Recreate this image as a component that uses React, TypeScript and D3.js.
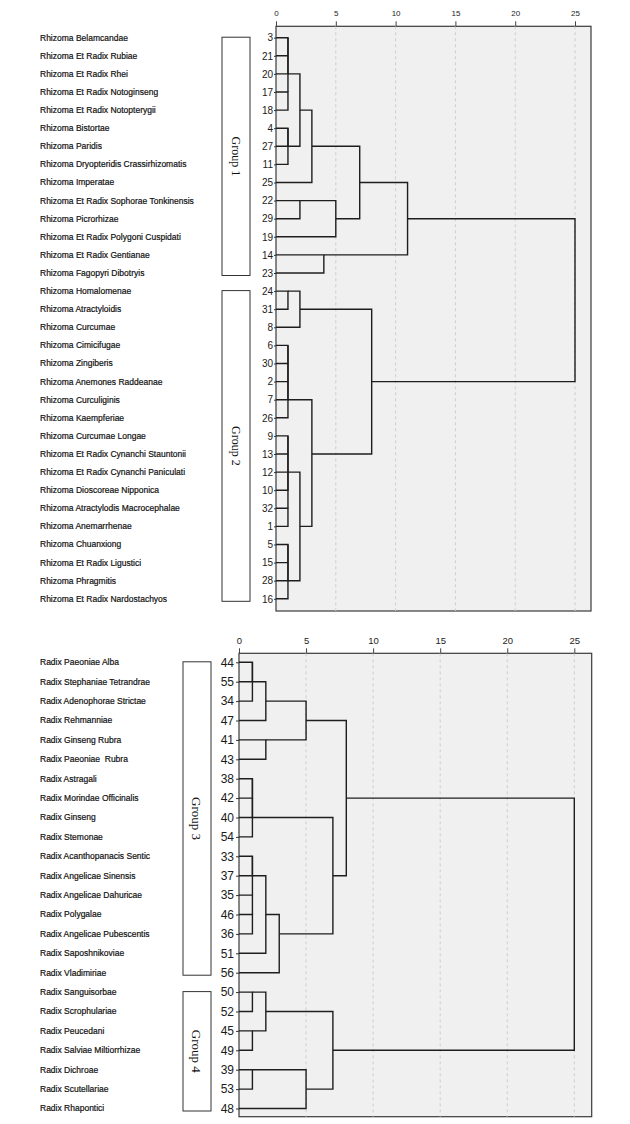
import React, { useEffect, useRef } from 'react';
import * as d3 from 'd3';

// leaf order (top to bottom) and names, upper dendrogram
const rhizomaLeaves = [3, 21, 20, 17, 18, 4, 27, 11, 25, 22, 29, 19, 14, 23, 24, 31, 8, 6, 30, 2, 7, 26, 9, 13, 12, 10, 32, 1, 5, 15, 28, 16];
const rhizomaNames = [
  'Rhizoma Belamcandae',
  'Rhizoma Et Radix Rubiae',
  'Rhizoma Et Radix Rhei',
  'Rhizoma Et Radix Notoginseng',
  'Rhizoma Et Radix Notopterygii',
  'Rhizoma Bistortae',
  'Rhizoma Paridis',
  'Rhizoma Dryopteridis Crassirhizomatis',
  'Rhizoma Imperatae',
  'Rhizoma Et Radix Sophorae Tonkinensis',
  'Rhizoma Picrorhizae',
  'Rhizoma Et Radix Polygoni Cuspidati',
  'Rhizoma Et Radix Gentianae',
  'Rhizoma Fagopyri Dibotryis',
  'Rhizoma Homalomenae',
  'Rhizoma Atractyloidis',
  'Rhizoma Curcumae',
  'Rhizoma Cimicifugae',
  'Rhizoma Zingiberis',
  'Rhizoma Anemones Raddeanae',
  'Rhizoma Curculiginis',
  'Rhizoma Kaempferiae',
  'Rhizoma Curcumae Longae',
  'Rhizoma Et Radix Cynanchi Stauntonii',
  'Rhizoma Et Radix Cynanchi Paniculati',
  'Rhizoma Dioscoreae Nipponica',
  'Rhizoma Atractylodis Macrocephalae',
  'Rhizoma Anemarrhenae',
  'Rhizoma Chuanxiong',
  'Rhizoma Et Radix Ligustici',
  'Rhizoma Phragmitis',
  'Rhizoma Et Radix Nardostachyos',
];
// merges: [left, right, rescaled distance]; numbers are leaves, 'mN' is merge N
const rhizomaMerges: [number | string, number | string, number][] = [
  [3, 21, 1], ['m0', 20, 1], [17, 18, 1], ['m1', 'm2', 1],
  [4, 27, 1], ['m4', 11, 1], ['m3', 'm5', 2], ['m6', 25, 3],
  [22, 29, 2], ['m8', 19, 5], ['m7', 'm9', 7], [14, 23, 4],
  ['m10', 'm11', 11],
  [24, 31, 1], ['m13', 8, 2],
  [6, 30, 1], ['m15', 2, 1], ['m16', 7, 1], ['m17', 26, 1],
  [9, 13, 1], [12, 10, 1], ['m19', 'm20', 1], [32, 1, 1], ['m21', 'm22', 1],
  [5, 15, 1], ['m24', 28, 1], ['m25', 16, 1],
  ['m23', 'm26', 2], ['m18', 'm27', 3], ['m14', 'm28', 8],
  ['m12', 'm29', 25],
];
const rhizomaGroups = [
  { label: 'Group 1', from: 0, to: 13 },
  { label: 'Group 2', from: 14, to: 31 },
];

// lower dendrogram
const radixLeaves = [44, 55, 34, 47, 41, 43, 38, 42, 40, 54, 33, 37, 35, 46, 36, 51, 56, 50, 52, 45, 49, 39, 53, 48];
const radixNames = [
  'Radix Paeoniae Alba',
  'Radix Stephaniae Tetrandrae',
  'Radix Adenophorae Strictae',
  'Radix Rehmanniae',
  'Radix Ginseng Rubra',
  'Radix Paeoniae  Rubra',
  'Radix Astragali',
  'Radix Morindae Officinalis',
  'Radix Ginseng',
  'Radix Stemonae',
  'Radix Acanthopanacis Sentic',
  'Radix Angelicae Sinensis',
  'Radix Angelicae Dahuricae',
  'Radix Polygalae',
  'Radix Angelicae Pubescentis',
  'Radix Saposhnikoviae',
  'Radix Vladimiriae',
  'Radix Sanguisorbae',
  'Radix Scrophulariae',
  'Radix Peucedani',
  'Radix Salviae Miltiorrhizae',
  'Radix Dichroae',
  'Radix Scutellariae',
  'Radix Rhapontici',
];
const radixMerges: [number | string, number | string, number][] = [
  [44, 55, 1], ['m0', 34, 1], ['m1', 47, 2], [41, 43, 2], ['m2', 'm3', 5],
  [38, 42, 1], ['m5', 40, 1], ['m6', 54, 1],
  [33, 37, 1], [46, 36, 1], [35, 'm9', 1], ['m8', 'm10', 1], ['m11', 51, 2], ['m12', 56, 3],
  ['m7', 'm13', 7], ['m4', 'm14', 8],
  [50, 52, 1], [45, 49, 1], ['m16', 'm17', 2], [39, 53, 1], ['m19', 48, 5], ['m18', 'm20', 7],
  ['m15', 'm21', 25],
];
const radixGroups = [
  { label: 'Group 3', from: 0, to: 16 },
  { label: 'Group 4', from: 17, to: 23 },
];

const axisTicks = [0, 5, 10, 15, 20, 25];

const SANS = '"Liberation Sans", Arial, sans-serif';
const SERIF = '"Liberation Serif", "Times New Roman", serif';

interface PanelLayout {
  x0: number; x25: number; right: number; top: number; bottom: number;
  yFirst: number; yLast: number; boxX: [number, number];
  tickFont: number; tickPad: number; leafFont: number; leafTick: number; leafPad: number;
  groupFont: number;
}

function drawPanel(
  g: d3.Selection<SVGGElement, unknown, null, undefined>,
  L: PanelLayout,
  leaves: number[],
  names: string[],
  merges: [number | string, number | string, number][],
  groups: { label: string; from: number; to: number }[]
) {
  const x = d3.scaleLinear().domain([0, 25]).range([L.x0, L.x25]);
  const y = d3.scaleLinear().domain([0, leaves.length - 1]).range([L.yFirst, L.yLast]);

  g.append('rect')
    .attr('x', L.x0).attr('y', L.top)
    .attr('width', L.right - L.x0).attr('height', L.bottom - L.top)
    .attr('fill', '#f0f0f0').attr('stroke', '#3a3a3a').attr('stroke-width', 1.2);

  g.selectAll('line.grid')
    .data(axisTicks.slice(1))
    .join('line')
    .attr('class', 'grid')
    .attr('x1', (d) => x(d)).attr('x2', (d) => x(d))
    .attr('y1', L.top).attr('y2', L.bottom)
    .attr('stroke', '#cdcdcd').attr('stroke-dasharray', '3,3');

  const ax = g.append('g')
    .attr('transform', `translate(0,${L.top})`)
    .call(d3.axisTop(x).tickValues(axisTicks).tickSize(5).tickSizeOuter(0).tickPadding(L.tickPad));
  ax.select('.domain').remove();
  ax.selectAll('text').attr('font-size', L.tickFont).attr('font-family', SANS).attr('fill', '#222');
  ax.selectAll('line').attr('stroke', '#444');

  const ay = g.append('g')
    .attr('transform', `translate(${L.x0},0)`)
    .call(
      d3.axisLeft(y)
        .tickValues(d3.range(leaves.length))
        .tickFormat((i) => String(leaves[i as number]))
        .tickSize(L.leafTick).tickSizeOuter(0).tickPadding(L.leafPad)
    );
  ay.select('.domain').remove();
  ay.selectAll('text').attr('font-size', L.leafFont).attr('font-family', SANS).attr('fill', '#1a1a1a');
  ay.selectAll('line').attr('stroke', '#333');

  // dendrogram links
  const pos = new Map<string, { row: number; h: number }>();
  leaves.forEach((id, i) => pos.set(String(id), { row: i, h: 0 }));
  const paths: string[] = [];
  merges.forEach(([a, b, h], k) => {
    const pa = pos.get(String(a))!;
    const pb = pos.get(String(b))!;
    const p = d3.path();
    p.moveTo(x(pa.h), y(pa.row));
    p.lineTo(x(h), y(pa.row));
    p.lineTo(x(h), y(pb.row));
    p.lineTo(x(pb.h), y(pb.row));
    paths.push(p.toString());
    pos.set('m' + k, { row: Math.floor((pa.row + pb.row) / 2), h });
  });
  g.selectAll('path.link')
    .data(paths)
    .join('path')
    .attr('class', 'link')
    .attr('d', (d) => d)
    .attr('fill', 'none')
    .attr('stroke', '#1e1e1e')
    .attr('stroke-width', 1.4);

  // species names
  g.selectAll('text.name')
    .data(names)
    .join('text')
    .attr('class', 'name')
    .attr('x', 40)
    .attr('y', (_, i) => y(i))
    .attr('dy', '0.35em')
    .attr('font-size', 8.5)
    .attr('font-family', SANS)
    .attr('fill', '#111')
    .attr('stroke', '#111')
    .attr('stroke-width', 0.2)
    .style('white-space', 'pre')
    .text((d) => d);

  // group boxes
  groups.forEach((grp) => {
    const y1 = y(grp.from) - 0.5;
    const y2 = y(grp.to) + 2.5;
    g.append('rect')
      .attr('x', L.boxX[0]).attr('y', y1)
      .attr('width', L.boxX[1] - L.boxX[0]).attr('height', y2 - y1)
      .attr('fill', '#fff').attr('stroke', '#333').attr('stroke-width', 1);
    const cx = (L.boxX[0] + L.boxX[1]) / 2;
    const cy = (y1 + y2) / 2;
    g.append('text')
      .attr('transform', `translate(${cx},${cy}) rotate(90)`)
      .attr('text-anchor', 'middle')
      .attr('dy', '0.35em')
      .attr('font-size', L.groupFont)
      .attr('font-family', SERIF)
      .attr('fill', '#111')
      .text(grp.label);
  });
}

const App: React.FC = () => {
  const svgRef = useRef<SVGSVGElement>(null);

  useEffect(() => {
    if (!svgRef.current) return;
    const svg = d3.select(svgRef.current);
    svg.selectAll('*').remove();

    drawPanel(
      svg.append('g'),
      {
        x0: 276, x25: 575, right: 591, top: 26.3, bottom: 611,
        yFirst: 37.7, yLast: 598.8, boxX: [222, 250],
        tickFont: 8, tickPad: 5, leafFont: 10, leafTick: 2, leafPad: 1, groupFont: 12,
      },
      rhizomaLeaves, rhizomaNames, rhizomaMerges, rhizomaGroups
    );

    drawPanel(
      svg.append('g'),
      {
        x0: 239, x25: 574.3, right: 591.7, top: 653.3, bottom: 1116.7,
        yFirst: 662.3, yLast: 1108.5, boxX: [183, 211],
        tickFont: 9.5, tickPad: 4, leafFont: 12, leafTick: 3, leafPad: 2, groupFont: 13,
      },
      radixLeaves, radixNames, radixMerges, radixGroups
    );
  }, []);

  return (
    <svg
      ref={svgRef}
      width={630}
      height={1124}
      style={{ position: 'absolute', left: 0, top: 0, background: '#fff' }}
    />
  );
};

export default App;
